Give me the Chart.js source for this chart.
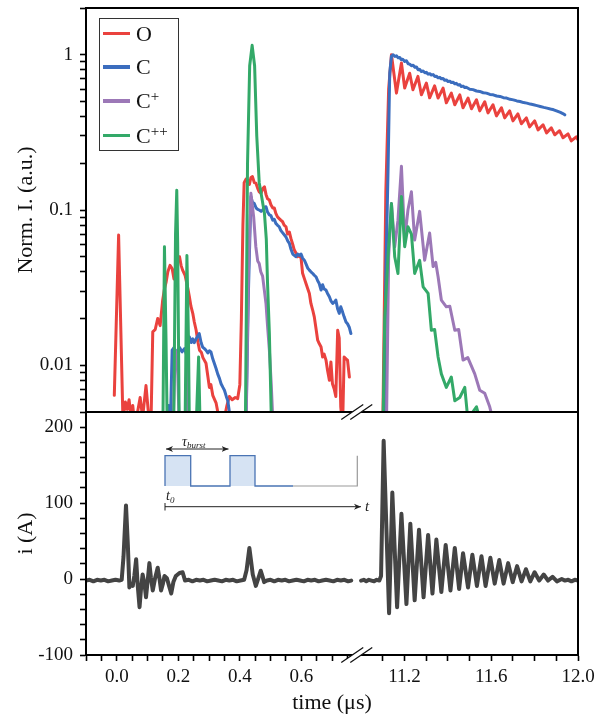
<!DOCTYPE html>
<html>
<head>
<meta charset="utf-8">
<script src="https://cdn.jsdelivr.net/npm/chart.js@4.4.1/dist/chart.umd.min.js"></script>
<style>
  html, body { margin: 0; padding: 0; background: #fff; }
  #wrap { position: relative; width: 599px; height: 717px; overflow: hidden; font-family: 'Liberation Serif', serif; }
  #wrap canvas { position: absolute; left: 0; top: 0; }
  #inset { position: absolute; left: 0; top: 0; }
  #legend { position: absolute; left: 99px; top: 18px; width: 78px; height: 131px; border: 1.5px solid #333; background: #fff; }
  .row { position: absolute; left: 0; width: 78px; height: 30px; }
  .swatch { position: absolute; left: 3px; top: 13px; width: 27px; height: 3.5px; }
  .lab { position: absolute; left: 36px; top: 0; font-size: 22px; line-height: 30px; color: #111; white-space: nowrap; }
  .lab sup { font-size: 15px; vertical-align: baseline; position: relative; top: -7px; }
</style>
</head>
<body>
<div id="wrap">
  <canvas id="topChart" width="599" height="717"></canvas>
  <canvas id="botChart" width="599" height="717"></canvas>
  <svg id="inset" width="599" height="717" viewBox="0 0 599 717">
    <defs>
      <marker id="ah" markerWidth="8" markerHeight="8" refX="7" refY="4" orient="auto-start-reverse" markerUnits="userSpaceOnUse">
        <path d="M0,1 L7,4 L0,7 L2,4 z" fill="#222"/>
      </marker>
    </defs>
    <rect x="165" y="455.7" width="25.7" height="30.3" fill="#d6e3f3"/>
    <rect x="230" y="455.7" width="25" height="30.3" fill="#d6e3f3"/>
    <path d="M165,486 V455.7 H190.7 V486 H230 V455.7 H255 V486 H293" fill="none" stroke="#4a74b4" stroke-width="1.3"/>
    <path d="M293,486 H357.3 V455.7" fill="none" stroke="#9a9a9a" stroke-width="1.2"/>
    <line x1="166" y1="449" x2="228.5" y2="449" stroke="#222" stroke-width="1" marker-start="url(#ah)" marker-end="url(#ah)"/>
    <text x="182" y="446" font-family="Liberation Serif" font-style="italic" font-size="14" fill="#222">τ<tspan font-size="9" dy="1.5">burst</tspan></text>
    <text x="166" y="500" font-family="Liberation Serif" font-style="italic" font-size="14" fill="#222">t<tspan font-size="9" dy="3">0</tspan></text>
    <line x1="165" y1="503" x2="165" y2="510.5" stroke="#222" stroke-width="1"/>
    <line x1="165" y1="506.7" x2="361" y2="506.7" stroke="#222" stroke-width="1" marker-end="url(#ah)"/>
    <text x="365" y="510.5" font-family="Liberation Serif" font-style="italic" font-size="15" fill="#222">t</text>
  </svg>
  <div id="legend"></div>
</div>
<script>
// broken time axis: two pieces, the right one drawn denser
const SEGMENTS = [
  { min: -0.1, max: 0.78, density: 1 },
  { min: 10.98, max: 12.0, density: 0.705 }
];

const X_MAJOR = [0.0, 0.2, 0.4, 0.6, 11.2, 11.6, 12.0];
const X_MAJOR_LABELS = ['0.0', '0.2', '0.4', '0.6', '11.2', '11.6', '12.0'];
const X_MINOR = [-0.1, -0.05, 0.05, 0.1, 0.15, 0.25, 0.3, 0.35, 0.45, 0.5, 0.55, 0.65, 0.7, 0.75,
  11.1, 11.3, 11.4, 11.5, 11.7, 11.8, 11.9];

const YTOP_MAJOR = [0.01, 0.1, 1];
const YTOP_MAJOR_LABELS = ['0.01', '0.1', '1'];
const YTOP_MINOR = [0.005, 0.006, 0.007, 0.008, 0.009, 0.02, 0.03, 0.04, 0.05, 0.06, 0.07, 0.08, 0.09,
  0.2, 0.3, 0.4, 0.5, 0.6, 0.7, 0.8, 0.9, 2];

const YBOT_MAJOR = [-100, 0, 100, 200];
const YBOT_MAJOR_LABELS = ['-100', '0', '100', '200'];
const YBOT_MINOR = [-80, -60, -40, -20, 20, 40, 60, 80, 120, 140, 160, 180];

const SERIES_LABELS = ['O', 'C', 'C⁺', 'C⁺⁺'];

// [time (us), normalised intensity]
const O_LEFT = [[-0.008, 0.0064], [0.006, 0.069], [0.020, 0.0045], [0.028, 0.0058], [0.034, 0.0052], [0.040, 0.0060],
  [0.046, 0.0047], [0.052, 0.0055], [0.058, 0.0042], [0.066, 0.0048], [0.076, 0.0062], [0.084, 0.0046], [0.095, 0.0074],
  [0.106, 0.0042], [0.112, 0.0050], [0.117, 0.0164], [0.125, 0.0170], [0.133, 0.0200], [0.141, 0.0180], [0.149, 0.026],
  [0.155, 0.031], [0.160, 0.034], [0.166, 0.040], [0.173, 0.044], [0.180, 0.042], [0.186, 0.036], [0.192, 0.044],
  [0.200, 0.048], [0.204, 0.050], [0.209, 0.044], [0.214, 0.041], [0.222, 0.038], [0.230, 0.032], [0.236, 0.0276],
  [0.241, 0.024], [0.247, 0.0216], [0.252, 0.019], [0.258, 0.0168], [0.264, 0.014], [0.269, 0.0125], [0.275, 0.0121],
  [0.280, 0.0112], [0.290, 0.0103], [0.296, 0.0085], [0.301, 0.0072], [0.306, 0.0075], [0.312, 0.0064], [0.318, 0.0060],
  [0.323, 0.0057], [0.330, 0.0048], [0.340, 0.0045], [0.350, 0.0046], [0.358, 0.0055], [0.366, 0.0063], [0.375, 0.0060],
  [0.385, 0.0062], [0.393, 0.0061], [0.400, 0.0075], [0.405, 0.020], [0.410, 0.080], [0.414, 0.150], [0.420, 0.158],
  [0.425, 0.156], [0.431, 0.146], [0.436, 0.162], [0.441, 0.164], [0.447, 0.150], [0.452, 0.149], [0.458, 0.138],
  [0.463, 0.131], [0.469, 0.128], [0.474, 0.137], [0.480, 0.141], [0.485, 0.126], [0.490, 0.118], [0.496, 0.116],
  [0.501, 0.108], [0.507, 0.103], [0.512, 0.103], [0.517, 0.095], [0.522, 0.0906], [0.528, 0.088], [0.533, 0.086],
  [0.539, 0.084], [0.544, 0.080], [0.550, 0.078], [0.555, 0.070], [0.561, 0.072], [0.566, 0.0656], [0.572, 0.060],
  [0.577, 0.0552], [0.582, 0.053], [0.588, 0.050], [0.593, 0.051], [0.599, 0.049], [0.604, 0.0391], [0.610, 0.036],
  [0.615, 0.0336], [0.621, 0.031], [0.626, 0.029], [0.631, 0.025], [0.637, 0.0226], [0.642, 0.0205], [0.648, 0.017],
  [0.653, 0.0145], [0.658, 0.0138], [0.664, 0.0131], [0.669, 0.0113], [0.674, 0.0118], [0.680, 0.0108], [0.685, 0.0093],
  [0.691, 0.0080], [0.696, 0.0105], [0.701, 0.0076], [0.707, 0.0070], [0.712, 0.0063], [0.718, 0.0168], [0.723, 0.0150],
  [0.728, 0.0054], [0.734, 0.0040], [0.739, 0.0113], [0.745, 0.0110], [0.750, 0.0108], [0.756, 0.0084]];
const O_RIGHT = [[11.100, 0.004], [11.114, 0.13], [11.127, 0.60], [11.140, 1.00], [11.163, 0.566], [11.186, 0.884],
  [11.201, 0.61], [11.224, 0.76], [11.239, 0.595], [11.262, 0.725], [11.278, 0.552], [11.301, 0.656], [11.316, 0.528],
  [11.339, 0.63], [11.355, 0.526], [11.378, 0.61], [11.393, 0.49], [11.416, 0.566], [11.432, 0.476], [11.455, 0.552],
  [11.470, 0.455], [11.493, 0.526], [11.509, 0.449], [11.532, 0.513], [11.547, 0.435], [11.570, 0.498], [11.585, 0.422],
  [11.608, 0.476], [11.624, 0.404], [11.647, 0.455], [11.662, 0.392], [11.685, 0.435], [11.700, 0.375], [11.723, 0.416],
  [11.739, 0.359], [11.762, 0.392], [11.777, 0.343], [11.800, 0.375], [11.816, 0.328], [11.839, 0.354], [11.855, 0.314],
  [11.877, 0.338], [11.893, 0.305], [11.915, 0.324], [11.931, 0.292], [11.954, 0.309], [11.969, 0.279], [11.992, 0.296],
  [12.000, 0.283]];

const C_LEFT = [[0.160, 0.0040], [0.168, 0.0055], [0.175, 0.0048], [0.180, 0.0125], [0.186, 0.0130], [0.192, 0.0118],
  [0.198, 0.0125], [0.204, 0.0130], [0.212, 0.0122], [0.220, 0.0128], [0.226, 0.0118], [0.236, 0.0152], [0.242, 0.0140],
  [0.247, 0.0148], [0.252, 0.0140], [0.258, 0.0148], [0.264, 0.0155], [0.268, 0.0160], [0.274, 0.0140], [0.279, 0.0131],
  [0.285, 0.0128], [0.290, 0.0125], [0.296, 0.0120], [0.301, 0.0124], [0.306, 0.0122], [0.312, 0.0110], [0.317, 0.0103],
  [0.323, 0.0095], [0.328, 0.0088], [0.334, 0.0082], [0.339, 0.0076], [0.345, 0.0072], [0.350, 0.0069], [0.356, 0.0063],
  [0.361, 0.0059], [0.366, 0.0050], [0.372, 0.0040], [0.420, 0.0040], [0.428, 0.030], [0.436, 0.122], [0.441, 0.112],
  [0.447, 0.110], [0.453, 0.103], [0.458, 0.101], [0.463, 0.100], [0.469, 0.098], [0.474, 0.100], [0.480, 0.104],
  [0.485, 0.105], [0.490, 0.097], [0.496, 0.093], [0.501, 0.092], [0.507, 0.086], [0.512, 0.087], [0.517, 0.082],
  [0.522, 0.080], [0.528, 0.078], [0.533, 0.074], [0.540, 0.071], [0.545, 0.069], [0.550, 0.067], [0.556, 0.063],
  [0.561, 0.061], [0.566, 0.056], [0.572, 0.052], [0.577, 0.051], [0.582, 0.050], [0.588, 0.052], [0.593, 0.051],
  [0.599, 0.052], [0.604, 0.049], [0.610, 0.0474], [0.615, 0.045], [0.621, 0.0421], [0.626, 0.041], [0.631, 0.040],
  [0.637, 0.039], [0.642, 0.038], [0.648, 0.037], [0.653, 0.035], [0.658, 0.0336], [0.664, 0.0305], [0.669, 0.0330],
  [0.674, 0.031], [0.680, 0.0305], [0.685, 0.029], [0.691, 0.0276], [0.696, 0.026], [0.702, 0.025], [0.707, 0.0255],
  [0.712, 0.0263], [0.718, 0.023], [0.723, 0.0216], [0.728, 0.0238], [0.734, 0.022], [0.739, 0.0205], [0.745, 0.019],
  [0.750, 0.0185], [0.756, 0.0175], [0.761, 0.0160]];
const C_RIGHT = [[11.107, 0.004], [11.114, 0.039], [11.124, 0.172], [11.132, 0.76], [11.140, 0.98], [11.148, 1.00],
  [11.156, 0.975], [11.163, 0.985], [11.171, 0.955], [11.178, 0.96], [11.185, 0.93], [11.192, 0.935], [11.201, 0.906],
  [11.209, 0.915], [11.217, 0.875], [11.224, 0.87], [11.232, 0.85], [11.240, 0.855], [11.248, 0.83], [11.255, 0.835],
  [11.263, 0.80], [11.270, 0.805], [11.278, 0.78], [11.286, 0.785], [11.294, 0.765], [11.301, 0.77], [11.309, 0.75],
  [11.317, 0.755], [11.324, 0.74], [11.332, 0.745], [11.340, 0.725], [11.347, 0.728], [11.355, 0.71], [11.363, 0.715],
  [11.370, 0.70], [11.378, 0.703], [11.385, 0.685], [11.393, 0.688], [11.401, 0.672], [11.409, 0.676], [11.416, 0.662],
  [11.424, 0.665], [11.432, 0.65], [11.439, 0.654], [11.447, 0.638], [11.455, 0.642], [11.462, 0.625], [11.470, 0.628],
  [11.478, 0.615], [11.485, 0.618], [11.501, 0.60], [11.516, 0.596], [11.532, 0.584], [11.547, 0.580], [11.563, 0.569],
  [11.578, 0.566], [11.594, 0.555], [11.609, 0.552], [11.625, 0.542], [11.640, 0.539], [11.656, 0.529], [11.671, 0.526],
  [11.687, 0.516], [11.702, 0.512], [11.718, 0.504], [11.733, 0.50], [11.749, 0.492], [11.764, 0.488], [11.780, 0.481],
  [11.795, 0.476], [11.811, 0.47], [11.826, 0.464], [11.842, 0.458], [11.857, 0.453], [11.873, 0.447], [11.888, 0.442],
  [11.904, 0.433], [11.919, 0.425], [11.930, 0.418], [11.939, 0.41]];

const CP_LEFT = [[0.183, 0.0040], [0.190, 0.0125], [0.197, 0.0110], [0.203, 0.0040], [0.222, 0.0040], [0.228, 0.0113],
  [0.234, 0.0040], [0.420, 0.0040], [0.428, 0.040], [0.436, 0.128], [0.445, 0.090], [0.452, 0.058], [0.458, 0.047],
  [0.463, 0.0452], [0.468, 0.040], [0.474, 0.0375], [0.480, 0.030], [0.485, 0.025], [0.490, 0.018], [0.496, 0.0125],
  [0.502, 0.0076], [0.507, 0.0045]];
const CP_RIGHT = [[11.117, 0.004], [11.127, 0.05], [11.140, 0.11], [11.155, 0.058], [11.170, 0.086], [11.186, 0.191],
  [11.201, 0.064], [11.216, 0.10], [11.232, 0.131], [11.247, 0.064], [11.270, 0.098], [11.293, 0.0474], [11.316, 0.071],
  [11.332, 0.0432], [11.344, 0.046], [11.355, 0.0372], [11.370, 0.0263], [11.393, 0.0238], [11.409, 0.024],
  [11.432, 0.0168], [11.450, 0.017], [11.470, 0.0108], [11.492, 0.0112], [11.524, 0.0088], [11.547, 0.0069],
  [11.570, 0.0066], [11.593, 0.0054], [11.607, 0.0045]];

const CPP_LEFT = [[0.150, 0.0040], [0.155, 0.058], [0.160, 0.015], [0.164, 0.0040], [0.185, 0.0040], [0.191, 0.070],
  [0.195, 0.134], [0.198, 0.060], [0.203, 0.0040], [0.222, 0.0040], [0.228, 0.051], [0.233, 0.015], [0.236, 0.0040],
  [0.258, 0.0040], [0.266, 0.0113], [0.271, 0.0040], [0.418, 0.0040], [0.425, 0.20], [0.432, 0.85], [0.440, 1.15],
  [0.448, 0.85], [0.455, 0.30], [0.463, 0.15], [0.470, 0.125], [0.480, 0.095], [0.486, 0.065], [0.490, 0.034],
  [0.496, 0.016], [0.503, 0.0040]];
const CPP_RIGHT = [[11.101, 0.004], [11.109, 0.020], [11.124, 0.050], [11.140, 0.110], [11.155, 0.050], [11.170, 0.039],
  [11.186, 0.122], [11.201, 0.058], [11.216, 0.078], [11.232, 0.070], [11.247, 0.039], [11.270, 0.0474], [11.286, 0.032],
  [11.309, 0.029], [11.324, 0.0168], [11.339, 0.017], [11.355, 0.0113], [11.370, 0.0088], [11.393, 0.0072],
  [11.416, 0.0084], [11.432, 0.0059], [11.455, 0.0062], [11.478, 0.0072], [11.492, 0.0045], [11.532, 0.0054],
  [11.547, 0.0045]];

// [time (us), current (A)]
const I_LEFT = [[-0.100, -2], [-0.088, -1], [-0.076, -3], [-0.064, -1], [-0.052, -2], [-0.040, -1], [-0.028, -3],
  [-0.016, -2], [-0.004, -1], [0.008, -2], [0.016, -1], [0.022, 30], [0.030, 97], [0.036, 45], [0.041, -11], [0.047, -6],
  [0.052, -9], [0.057, 4], [0.063, 26], [0.068, -8], [0.074, -37], [0.079, -12], [0.084, 6], [0.090, -6], [0.095, -24],
  [0.100, -4], [0.106, 21], [0.111, 2], [0.117, -15], [0.124, 0], [0.133, 15], [0.139, 0], [0.144, -15], [0.150, -6],
  [0.155, 4], [0.163, 1], [0.170, -9], [0.177, -19], [0.184, -4], [0.192, 4], [0.204, 8], [0.214, 9], [0.222, -2],
  [0.234, -1], [0.246, -3], [0.258, -1], [0.270, -2], [0.282, -1], [0.294, -3], [0.306, -2], [0.318, -1], [0.330, -2],
  [0.342, -3], [0.354, -1], [0.366, -2], [0.378, -1], [0.390, -3], [0.402, -2], [0.414, -1], [0.422, 12], [0.431, 41],
  [0.437, 22], [0.442, 6], [0.452, -9], [0.460, 1], [0.468, 11], [0.474, 3], [0.479, -4], [0.488, -2], [0.500, -1],
  [0.512, -3], [0.524, -1], [0.536, -2], [0.548, -1], [0.560, -3], [0.572, -2], [0.584, -1], [0.596, -2], [0.608, -3],
  [0.620, -1], [0.632, -2], [0.644, -1], [0.656, -3], [0.668, -2], [0.680, -1], [0.692, -2], [0.704, -3], [0.716, -1],
  [0.728, -2], [0.740, -1], [0.752, -3], [0.762, -2]];
const I_RIGHT = [[11.000, -2], [11.012, -1], [11.024, -3], [11.036, -1], [11.048, -2], [11.060, -3], [11.072, -1],
  [11.084, -2], [11.092, 4], [11.104, 182], [11.129, -45], [11.144, 114], [11.166, -37], [11.186, 86], [11.209, -33],
  [11.227, 73], [11.247, -28], [11.267, 65], [11.288, -24], [11.309, 58], [11.329, -19], [11.347, 52], [11.370, -17],
  [11.390, 45], [11.412, -15], [11.432, 41], [11.452, -13], [11.470, 34], [11.493, -11], [11.513, 32], [11.534, -9],
  [11.555, 30], [11.574, -9], [11.596, 28], [11.616, -6], [11.637, 25], [11.657, -6], [11.678, 21], [11.699, -4],
  [11.719, 17], [11.740, -3], [11.760, 13], [11.780, -3], [11.800, 9], [11.821, -2], [11.842, 6], [11.862, -2],
  [11.883, 3], [11.903, -3], [11.925, 0], [11.940, -2], [11.955, -1], [11.970, -3], [11.985, -1], [12.000, -2]];

const RED = '#ea423e', BLUE = '#3b6dbe', PURPLE = '#9c78b7', GREEN = '#33a968', GREY = '#444444';
const FONT = "'Liberation Serif', 'Times New Roman', serif";

// linear scale with an axis break between the segments
const spans = SEGMENTS.map(s => (s.max - s.min) * s.density);
const spanTotal = spans.reduce((a, b) => a + b, 0);

class BrokenTimeScale extends Chart.LinearScale {
  getPixelForValue(value) {
    if (value === null || value === undefined || isNaN(value)) return NaN;
    let acc = 0;
    for (let i = 0; i < SEGMENTS.length; i++) {
      const s = SEGMENTS[i];
      if (value <= s.max || i === SEGMENTS.length - 1) {
        const d = (acc + (Math.max(value, s.min) - s.min) * s.density) / spanTotal;
        return this.getPixelForDecimal(d);
      }
      acc += spans[i];
    }
    return NaN;
  }
  getValueForPixel(pixel) {
    let d = this.getDecimalForPixel(pixel) * spanTotal;
    for (let i = 0; i < SEGMENTS.length; i++) {
      if (d <= spans[i] || i === SEGMENTS.length - 1) return SEGMENTS[i].min + d / SEGMENTS[i].density;
      d -= spans[i];
    }
  }
}
BrokenTimeScale.id = 'brokenTime';
Chart.register(BrokenTimeScale);

Chart.defaults.font.family = FONT;
Chart.defaults.font.size = 19;
Chart.defaults.color = '#111';

function line(pairs, color, width) {
  return {
    data: pairs.map(p => ({ x: p[0], y: p[1] })),
    borderColor: color,
    borderWidth: width,
    pointRadius: 0,
    tension: 0,
    fill: false,
    borderJoinStyle: 'round',
    borderCapStyle: 'round'
  };
}

function tickSet(major, minor) {
  return axis => { axis.ticks = major.concat(minor).sort((a, b) => a - b).map(v => ({ value: v })); };
}
function tickLabel(major, labels) {
  return v => { const k = major.indexOf(v); return k >= 0 ? labels[k] : ''; };
}

const grid = { display: true, drawOnChartArea: false, drawTicks: true, tickLength: 6, tickWidth: 1.6, tickColor: '#000' };
const border = { display: true, color: '#000', width: 2 };

const framePlugin = {
  id: 'frame',
  afterDraw(chart) {
    const { ctx, chartArea: a } = chart;
    ctx.save();
    ctx.strokeStyle = '#000';
    ctx.lineWidth = 2;
    ctx.strokeRect(a.left, a.top, a.right - a.left, a.bottom - a.top);
    ctx.restore();
  }
};

const breakPlugin = {
  id: 'axisBreak',
  afterDraw(chart) {
    const { ctx, chartArea: a } = chart;
    const x = chart.scales.x.getPixelForValue(SEGMENTS[0].max);
    const dx = 11, dy = 7.5, gap = 4.5;
    ctx.save();
    for (const y of [a.top, a.bottom]) {
      ctx.fillStyle = '#fff';
      ctx.beginPath();
      ctx.moveTo(x - gap - dx, y + dy);
      ctx.lineTo(x - gap + dx, y - dy);
      ctx.lineTo(x + gap + dx, y - dy);
      ctx.lineTo(x + gap - dx, y + dy);
      ctx.closePath();
      ctx.fill();
      ctx.strokeStyle = '#111';
      ctx.lineWidth = 1.3;
      for (const o of [-gap, gap]) {
        ctx.beginPath();
        ctx.moveTo(x + o - dx, y + dy);
        ctx.lineTo(x + o + dx, y - dy);
        ctx.stroke();
      }
    }
    ctx.restore();
  }
};

const common = {
  responsive: false,
  animation: false,
  devicePixelRatio: 1,
  events: [],
  plugins: { legend: { display: false }, tooltip: { enabled: false } }
};

// upper panel: normalised intensities, log scale
new Chart(document.getElementById('topChart'), {
  type: 'line',
  data: {
    datasets: [
      line(CPP_LEFT, GREEN, 3), line(CPP_RIGHT, GREEN, 3),
      line(CP_LEFT, PURPLE, 3), line(CP_RIGHT, PURPLE, 3),
      line(C_LEFT, BLUE, 3), line(C_RIGHT, BLUE, 3),
      line(O_LEFT, RED, 3), line(O_RIGHT, RED, 3)
    ]
  },
  options: {
    ...common,
    layout: { padding: { left: 0, right: 21, top: 8, bottom: 305 } },
    scales: {
      x: { type: 'brokenTime', display: false, min: SEGMENTS[0].min, max: SEGMENTS[1].max },
      y: {
        type: 'logarithmic', min: 0.005, max: 2,
        afterBuildTicks: tickSet(YTOP_MAJOR, YTOP_MINOR),
        afterFit: s => { s.width = 86; s.paddingTop = 0; s.paddingBottom = 0; },
        ticks: { callback: tickLabel(YTOP_MAJOR, YTOP_MAJOR_LABELS), autoSkip: false, padding: 7, color: '#111' },
        grid, border,
        title: { display: true, text: 'Norm. I. (a.u.)', font: { size: 22 }, color: '#111', padding: { top: 13, bottom: 0 } }
      }
    }
  },
  plugins: [framePlugin]
});

// lower panel: discharge current
new Chart(document.getElementById('botChart'), {
  type: 'line',
  data: {
    datasets: [line(I_LEFT, GREY, 4), line(I_RIGHT, GREY, 4)]
  },
  options: {
    ...common,
    layout: { padding: { left: 0, right: 21, top: 412, bottom: 0 } },
    scales: {
      x: {
        type: 'brokenTime', min: SEGMENTS[0].min, max: SEGMENTS[1].max,
        afterBuildTicks: tickSet(X_MAJOR, X_MINOR),
        afterFit: s => { s.height = 62; s.paddingLeft = 0; s.paddingRight = 0; },
        ticks: { callback: tickLabel(X_MAJOR, X_MAJOR_LABELS), autoSkip: false, maxRotation: 0, minRotation: 0, padding: 5, color: '#111' },
        grid, border,
        title: { display: true, text: 'time (μs)', font: { size: 22 }, color: '#111', padding: { top: 0, bottom: 1 } }
      },
      y: {
        type: 'linear', min: -100, max: 220,
        afterBuildTicks: tickSet(YBOT_MAJOR, YBOT_MINOR),
        afterFit: s => { s.width = 86; s.paddingTop = 0; s.paddingBottom = 0; },
        ticks: { callback: tickLabel(YBOT_MAJOR, YBOT_MAJOR_LABELS), autoSkip: false, padding: 7, color: '#111' },
        grid, border,
        title: { display: true, text: 'i (A)', font: { size: 22 }, color: '#111', padding: { top: 13, bottom: 0 } }
      }
    }
  },
  plugins: [framePlugin, breakPlugin]
});

// legend box inside the upper panel
const legendColors = [RED, BLUE, PURPLE, GREEN];
const legendTops = [-0.5, 33.2, 67.2, 101.5];
const legend = document.getElementById('legend');
SERIES_LABELS.forEach((lab, i) => {
  const row = document.createElement('div');
  row.className = 'row';
  row.style.top = legendTops[i] + 'px';
  const sw = document.createElement('div');
  sw.className = 'swatch';
  sw.style.background = legendColors[i];
  const tx = document.createElement('div');
  tx.className = 'lab';
  const base = lab.replace(/⁺/g, '');
  const plus = '+'.repeat(lab.length - base.length);
  tx.textContent = base;
  if (plus) {
    const sup = document.createElement('sup');
    sup.textContent = plus;
    tx.appendChild(sup);
  }
  row.appendChild(sw);
  row.appendChild(tx);
  legend.appendChild(row);
});
</script>
</body>
</html>
